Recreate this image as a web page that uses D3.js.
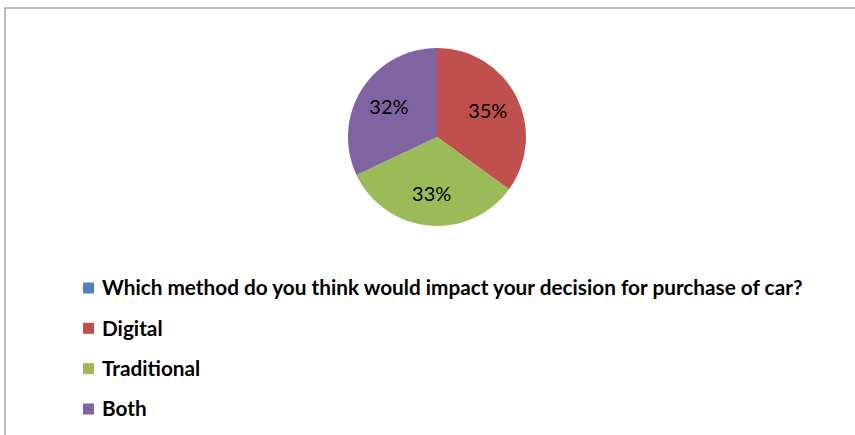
<!DOCTYPE html>
<html>
<head>
<meta charset="utf-8">
<script src="https://cdn.jsdelivr.net/npm/d3@7"></script>
<style>
html,body{margin:0;padding:0;background:#fff;}
svg{display:block;}
</style>
</head>
<body>
<svg id="chart" width="855" height="435"></svg>
<script>
const categories = ["Which method do you think would impact your decision for purchase of car?", "Digital", "Traditional", "Both"];
const values = [0, 35, 33, 32];
const labels = ["", "35%", "33%", "32%"];
const colors = ["#4F81BD", "#C0504D", "#9BBB59", "#8064A2"];

const svg = d3.select("#chart");
svg.append("rect").attr("x", 5).attr("y", 8).attr("width", 870).attr("height", 450)
  .attr("fill", "#fff").attr("stroke", "#a6a6a6").attr("stroke-width", 1.5);

const cx = 437, cy = 137, r = 89;
const pie = d3.pie().sort(null).value(d => d.v);
const data = pie(categories.map((c, i) => ({c, v: values[i], i})));
const arc = d3.arc().innerRadius(0).outerRadius(r);
const labelArc = d3.arc().innerRadius(r * 0.64).outerRadius(r * 0.64);

const g = svg.append("g").attr("transform", `translate(${cx},${cy})`);
g.selectAll("path").data(data.filter(d => d.data.v > 0)).join("path")
  .attr("d", arc).attr("fill", d => colors[d.data.i]);

g.selectAll("text").data(data.filter(d => d.data.v > 0)).join("text")
  .attr("transform", d => `translate(${labelArc.centroid(d)})`)
  .attr("text-anchor", "middle").attr("dy", "0.36em")
  .attr("font-family", "Lato, 'Open Sans', sans-serif").attr("font-size", 20)
  .attr("fill", "#000")
  .text(d => labels[d.data.i]);

const color = d3.scaleOrdinal().domain(categories).range(colors);
const y = d3.scalePoint().domain(categories).range([288, 409]);
const leg = svg.append("g");
const rows = leg.selectAll("g").data(categories).join("g")
  .attr("transform", d => `translate(83,${y(d)})`);
rows.append("rect").attr("x", 0).attr("y", -5.5).attr("width", 11).attr("height", 11)
  .attr("fill", d => color(d));
const txt = rows.append("text").attr("x", 19).attr("dy", "0.36em")
  .attr("font-family", "Lato, 'Open Sans', sans-serif").attr("font-weight", "bold")
  .attr("font-size", 18).attr("fill", "#000")
  .text(d => d);
// fit the longest legend entry to its width in the reference
const w = txt.nodes()[0].getComputedTextLength();
const fs = 18 * 701 / w;
txt.attr("font-size", fs);
</script>
</body>
</html>
